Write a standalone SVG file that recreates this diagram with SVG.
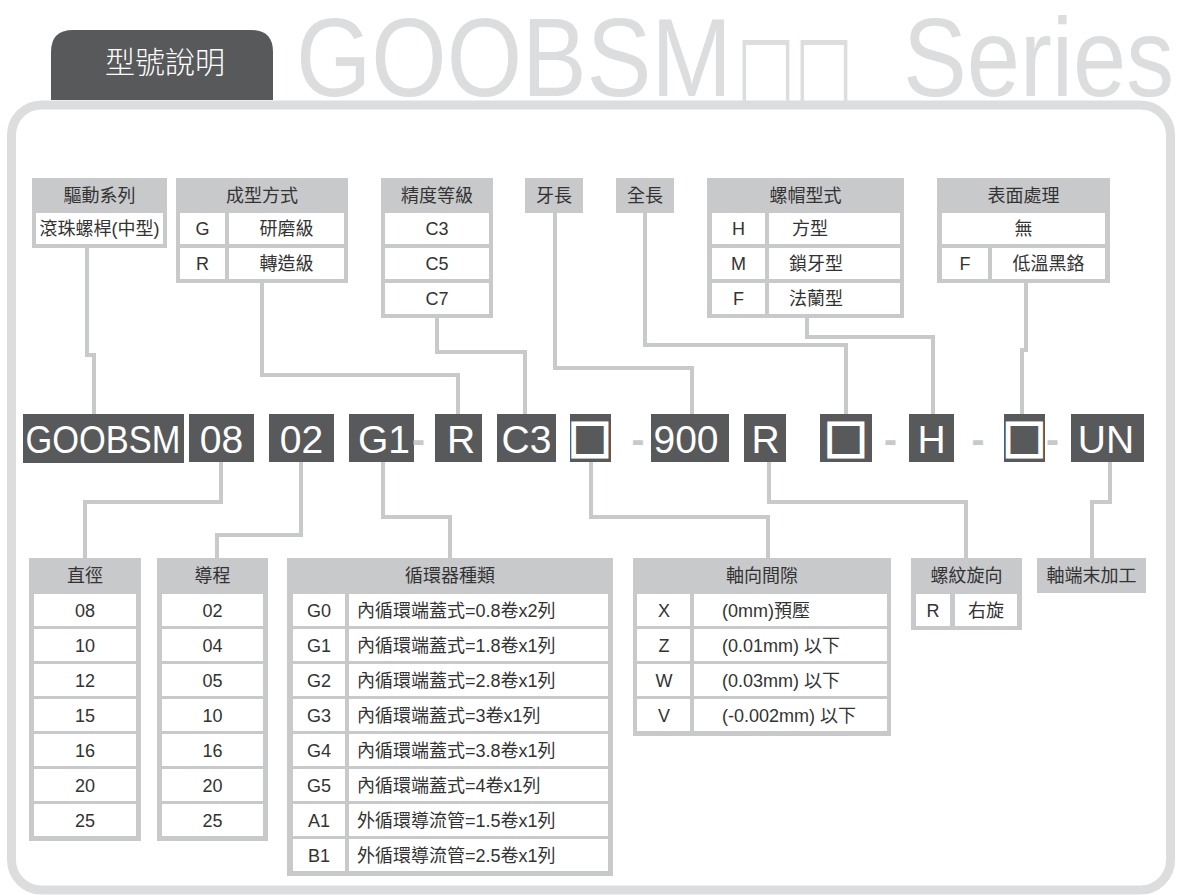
<svg xmlns="http://www.w3.org/2000/svg" width="1178" height="895" viewBox="0 0 1178 895">
<style>
.tbl{fill:#c8c9cb}
.cell{fill:#fff}
.t{font-family:"Liberation Sans","Noto Sans CJK TC",sans-serif;font-size:18px;fill:#333}
.m{text-anchor:middle}
.box{fill:#58595b}
.ct{font-family:"Liberation Sans",sans-serif;font-size:39px;fill:#fff;text-anchor:middle}
.sq{font-family:"DejaVu Sans",sans-serif;font-weight:bold;font-size:46px;fill:#fff;stroke:#fff;stroke-width:2;text-anchor:middle}
.dash{font-family:"Liberation Sans",sans-serif;font-weight:bold;font-size:39px;fill:#c8c9cb;text-anchor:middle}
.title{font-family:"Liberation Sans",sans-serif;font-size:112px;fill:#dcdddf}
#connectors path{fill:none;stroke:#c8c9cb;stroke-width:4}
</style>

<g id="frame">
<rect x="11.5" y="105" width="1159" height="785" rx="30" fill="none" stroke="#dcdddf" stroke-width="9"/>
</g>
<g id="tab">
<path d="M51,100 V52 Q51,30 73,30 H251 Q273,30 273,52 V100 Z" fill="#58595b"/>
<text x="165" y="73" font-family="Noto Sans CJK TC,sans-serif" font-size="30" font-weight="300" fill="#fff" text-anchor="middle">型號說明</text>
</g>
<g id="title">
<text class="title" x="296" y="96" textLength="436" lengthAdjust="spacingAndGlyphs">GOOBSM</text>
<text class="title" x="737" y="96" style="font-family:'DejaVu Sans',sans-serif;font-size:87px" textLength="116" lengthAdjust="spacingAndGlyphs">□□</text>
<text class="title" x="903" y="96" textLength="271" lengthAdjust="spacingAndGlyphs">Series</text>
</g>

<g id="connectors">
<path d="M87,248 V355 H94 V414"/>
<path d="M262,283 V375 H458 V414"/>
<path d="M437,318 V352 H525 V414"/>
<path d="M555,213 V368 H692 V414"/>
<path d="M645,213 V345 H846 V414"/>
<path d="M807,318 V337 H933 V414"/>
<path d="M1026,283 V350 H1022 V414"/>
<path d="M221,462 V502 H85 V558"/>
<path d="M301,462 V535 H217 V558"/>
<path d="M383,462 V517 H450 V558"/>
<path d="M591,462 V517 H768 V558"/>
<path d="M769,462 V502 H966 V558"/>
<path d="M1110,462 V502 H1092 V558"/>
</g>

<!-- top tables -->
<g id="drive-series">
<rect class="tbl" x="32" y="178" width="135" height="70"/>
<rect class="cell" x="36" y="213" width="127" height="31"/>
<text class="t m" x="99.5" y="202">驅動系列</text>
<text class="t m" x="99.5" y="235">滾珠螺桿(中型)</text>
</g>
<g id="forming">
<rect class="tbl" x="176" y="178" width="172" height="105"/>
<rect class="cell" x="180" y="213" width="45" height="31"/>
<rect class="cell" x="229" y="213" width="115" height="31"/>
<rect class="cell" x="180" y="248" width="45" height="31"/>
<rect class="cell" x="229" y="248" width="115" height="31"/>
<text class="t m" x="262" y="202">成型方式</text>
<text class="t m" x="202.5" y="235">G</text>
<text class="t m" x="286.5" y="235">研磨級</text>
<text class="t m" x="202.5" y="270">R</text>
<text class="t m" x="286.5" y="270">轉造級</text>
</g>
<g id="precision">
<rect class="tbl" x="381" y="178" width="112" height="140"/>
<rect class="cell" x="385" y="213" width="104" height="31"/>
<rect class="cell" x="385" y="248" width="104" height="31"/>
<rect class="cell" x="385" y="283" width="104" height="31"/>
<text class="t m" x="437" y="202">精度等級</text>
<text class="t m" x="437" y="235">C3</text>
<text class="t m" x="437" y="270">C5</text>
<text class="t m" x="437" y="305">C7</text>
</g>
<g id="thread-length">
<rect class="tbl" x="525" y="178" width="58" height="35"/>
<text class="t m" x="554" y="202">牙長</text>
</g>
<g id="total-length">
<rect class="tbl" x="616" y="178" width="58" height="35"/>
<text class="t m" x="645" y="202">全長</text>
</g>
<g id="nut-type">
<rect class="tbl" x="707" y="178" width="197" height="140"/>
<rect class="cell" x="712" y="213" width="53" height="31"/>
<rect class="cell" x="769" y="213" width="131" height="31"/>
<rect class="cell" x="712" y="248" width="53" height="31"/>
<rect class="cell" x="769" y="248" width="131" height="31"/>
<rect class="cell" x="712" y="283" width="53" height="31"/>
<rect class="cell" x="769" y="283" width="131" height="31"/>
<text class="t m" x="805.5" y="202">螺帽型式</text>
<text class="t m" x="738.5" y="235">H</text>
<text class="t" x="792" y="235">方型</text>
<text class="t m" x="738.5" y="270">M</text>
<text class="t" x="789" y="270">鎖牙型</text>
<text class="t m" x="738.5" y="305">F</text>
<text class="t" x="789" y="305">法蘭型</text>
</g>
<g id="surface">
<rect class="tbl" x="937" y="178" width="173" height="105"/>
<rect class="cell" x="942" y="213" width="163" height="31"/>
<rect class="cell" x="942" y="248" width="46" height="31"/>
<rect class="cell" x="992" y="248" width="113" height="31"/>
<text class="t m" x="1023.5" y="202">表面處理</text>
<text class="t m" x="1023.5" y="235">無</text>
<text class="t m" x="965" y="270">F</text>
<text class="t m" x="1048.5" y="270">低溫黑鉻</text>
</g>

<!-- code row -->
<g id="code-goobsm"><rect class="box" x="23" y="414" width="161" height="49"/><text class="ct" x="103" y="453" textLength="155" lengthAdjust="spacingAndGlyphs">GOOBSM</text></g>
<g id="code-08"><rect class="box" x="189" y="414" width="65" height="48"/><text class="ct" x="221.5" y="453">08</text></g>
<g id="code-02"><rect class="box" x="269" y="414" width="65" height="48"/><text class="ct" x="301.5" y="453">02</text></g>
<g id="code-g1"><rect class="box" x="349" y="414" width="65" height="48"/><text class="ct" x="384" y="453">G1</text></g>
<g id="dash-1"><text class="dash" x="418.5" y="453">-</text></g>
<g id="code-r"><rect class="box" x="435" y="414" width="47" height="48"/><text class="ct" x="461" y="453">R</text></g>
<g id="code-c3"><rect class="box" x="497" y="414" width="59" height="48"/><text class="ct" x="526.5" y="453">C3</text></g>
<g id="code-sq1"><rect class="box" x="570" y="414" width="41" height="48"/><text class="sq" x="590" y="452">□</text></g>
<g id="dash-2"><text class="dash" x="638" y="453">-</text></g>
<g id="code-900"><rect class="box" x="651" y="414" width="78" height="48"/><text class="ct" x="686" y="453">900</text></g>
<g id="code-r2"><rect class="box" x="744" y="414" width="42" height="48"/><text class="ct" x="765.5" y="453">R</text></g>
<g id="code-sq2"><rect class="box" x="820" y="414" width="52" height="48"/><text class="sq" x="846" y="452">□</text></g>
<g id="dash-3"><text class="dash" x="890.5" y="453">-</text></g>
<g id="code-h"><rect class="box" x="909" y="414" width="45" height="48"/><text class="ct" x="931.5" y="453">H</text></g>
<g id="dash-4"><text class="dash" x="978" y="453">-</text></g>
<g id="code-sq3"><rect class="box" x="1004" y="414" width="41" height="48"/><text class="sq" x="1024.5" y="452">□</text></g>
<g id="dash-5"><text class="dash" x="1052.5" y="453">-</text></g>
<g id="code-un"><rect class="box" x="1071" y="414" width="73" height="48"/><text class="ct" x="1106" y="453">UN</text></g>

<!-- bottom tables -->
<g id="diameter">
<rect class="tbl" x="29" y="558" width="112" height="283"/>
<text class="t m" x="85" y="582">直徑</text>
<rect class="cell" x="34" y="594" width="102" height="32"/>
<rect class="cell" x="34" y="629" width="102" height="32"/>
<rect class="cell" x="34" y="664" width="102" height="32"/>
<rect class="cell" x="34" y="699" width="102" height="32"/>
<rect class="cell" x="34" y="734" width="102" height="32"/>
<rect class="cell" x="34" y="769" width="102" height="32"/>
<rect class="cell" x="34" y="804" width="102" height="32"/>
<text class="t m" x="85" y="617">08</text>
<text class="t m" x="85" y="652">10</text>
<text class="t m" x="85" y="687">12</text>
<text class="t m" x="85" y="722">15</text>
<text class="t m" x="85" y="757">16</text>
<text class="t m" x="85" y="792">20</text>
<text class="t m" x="85" y="827">25</text>
</g>
<g id="lead">
<rect class="tbl" x="157" y="558" width="111" height="283"/>
<text class="t m" x="212.5" y="582">導程</text>
<rect class="cell" x="162" y="594" width="101" height="32"/>
<rect class="cell" x="162" y="629" width="101" height="32"/>
<rect class="cell" x="162" y="664" width="101" height="32"/>
<rect class="cell" x="162" y="699" width="101" height="32"/>
<rect class="cell" x="162" y="734" width="101" height="32"/>
<rect class="cell" x="162" y="769" width="101" height="32"/>
<rect class="cell" x="162" y="804" width="101" height="32"/>
<text class="t m" x="212.5" y="617">02</text>
<text class="t m" x="212.5" y="652">04</text>
<text class="t m" x="212.5" y="687">05</text>
<text class="t m" x="212.5" y="722">10</text>
<text class="t m" x="212.5" y="757">16</text>
<text class="t m" x="212.5" y="792">20</text>
<text class="t m" x="212.5" y="827">25</text>
</g>
<g id="circulation">
<rect class="tbl" x="287" y="558" width="326" height="318"/>
<text class="t m" x="450" y="582">循環器種類</text>
<rect class="cell" x="293" y="594" width="52" height="32"/><rect class="cell" x="349" y="594" width="259" height="32"/>
<rect class="cell" x="293" y="629" width="52" height="32"/><rect class="cell" x="349" y="629" width="259" height="32"/>
<rect class="cell" x="293" y="664" width="52" height="32"/><rect class="cell" x="349" y="664" width="259" height="32"/>
<rect class="cell" x="293" y="699" width="52" height="32"/><rect class="cell" x="349" y="699" width="259" height="32"/>
<rect class="cell" x="293" y="734" width="52" height="32"/><rect class="cell" x="349" y="734" width="259" height="32"/>
<rect class="cell" x="293" y="769" width="52" height="32"/><rect class="cell" x="349" y="769" width="259" height="32"/>
<rect class="cell" x="293" y="804" width="52" height="32"/><rect class="cell" x="349" y="804" width="259" height="32"/>
<rect class="cell" x="293" y="839" width="52" height="32"/><rect class="cell" x="349" y="839" width="259" height="32"/>
<text class="t m" x="319" y="617">G0</text><text class="t" x="357" y="617">內循環端蓋式=0.8卷x2列</text>
<text class="t m" x="319" y="652">G1</text><text class="t" x="357" y="652">內循環端蓋式=1.8卷x1列</text>
<text class="t m" x="319" y="687">G2</text><text class="t" x="357" y="687">內循環端蓋式=2.8卷x1列</text>
<text class="t m" x="319" y="722">G3</text><text class="t" x="357" y="722">內循環端蓋式=3卷x1列</text>
<text class="t m" x="319" y="757">G4</text><text class="t" x="357" y="757">內循環端蓋式=3.8卷x1列</text>
<text class="t m" x="319" y="792">G5</text><text class="t" x="357" y="792">內循環端蓋式=4卷x1列</text>
<text class="t m" x="319" y="827">A1</text><text class="t" x="357" y="827">外循環導流管=1.5卷x1列</text>
<text class="t m" x="319" y="862">B1</text><text class="t" x="357" y="862">外循環導流管=2.5卷x1列</text>
</g>
<g id="axial-clearance">
<rect class="tbl" x="633" y="558" width="258" height="178"/>
<text class="t m" x="762" y="582">軸向間隙</text>
<rect class="cell" x="637" y="594" width="53" height="32"/><rect class="cell" x="694" y="594" width="193" height="32"/>
<rect class="cell" x="637" y="629" width="53" height="32"/><rect class="cell" x="694" y="629" width="193" height="32"/>
<rect class="cell" x="637" y="664" width="53" height="32"/><rect class="cell" x="694" y="664" width="193" height="32"/>
<rect class="cell" x="637" y="699" width="53" height="32"/><rect class="cell" x="694" y="699" width="193" height="32"/>
<text class="t m" x="664" y="617">X</text><text class="t" x="722" y="617">(0mm)預壓</text>
<text class="t m" x="664" y="652">Z</text><text class="t" x="722" y="652">(0.01mm) 以下</text>
<text class="t m" x="664" y="687">W</text><text class="t" x="722" y="687">(0.03mm) 以下</text>
<text class="t m" x="664" y="722">V</text><text class="t" x="722" y="722">(-0.002mm) 以下</text>
</g>
<g id="thread-direction">
<rect class="tbl" x="911" y="558" width="111" height="72"/>
<text class="t m" x="966.5" y="582">螺紋旋向</text>
<rect class="cell" x="916" y="594" width="34" height="32"/><rect class="cell" x="955" y="594" width="62" height="32"/>
<text class="t m" x="933" y="617">R</text><text class="t m" x="986" y="617">右旋</text>
</g>
<g id="shaft-end">
<rect class="tbl" x="1037" y="558" width="109" height="35"/>
<text class="t m" x="1091.5" y="582">軸端末加工</text>
</g>
</svg>
